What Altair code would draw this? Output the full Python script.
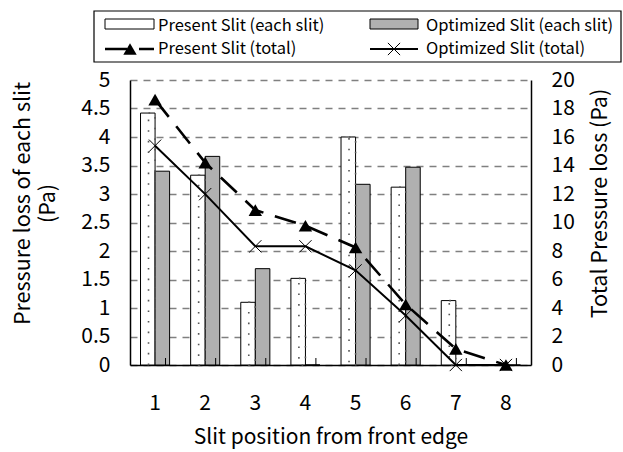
import altair as alt
import pandas as pd

slits = [1, 2, 3, 4, 5, 6, 7, 8]
present_each = [4.42, 3.33, 1.10, 1.52, 4.00, 3.12, 1.13, 0.0]
optimized_each = [3.40, 3.66, 1.69, 0.0, 3.17, 3.47, 0.0, 0.0]
present_total = [18.62, 14.20, 10.87, 9.77, 8.25, 4.25, 1.13, 0.0]
optimized_total = [15.39, 11.99, 8.33, 8.33, 6.64, 3.47, 0.0, 0.0]
left_ticks = [0, 0.5, 1, 1.5, 2, 2.5, 3, 3.5, 4, 4.5, 5]
right_ticks = [0, 2, 4, 6, 8, 10, 12, 14, 16, 18, 20]
series_names = ["Present", "Optimized"]
legend_labels = ["Present Slit (each slit)", "Optimized Slit (each slit)",
                 "Present Slit (total)", "Optimized Slit (total)"]

FONT = "Noto Sans CJK JP"
W, H = 401, 285
HATCH = "#b0b0b0"

bars_df = pd.DataFrame({
    "slit": slits * 2,
    "series": [series_names[0]] * len(slits) + [series_names[1]] * len(slits),
    "value": present_each + optimized_each,
})
tot_df = pd.DataFrame({"slit": slits, "present": present_total, "optimized": optimized_total})
one = pd.DataFrame({"a": [0]})

xenc = alt.X("slit:O",
             scale=alt.Scale(paddingInner=0.42, paddingOuter=0.21),
             axis=alt.Axis(title="Slit position from front edge", labelAngle=0, ticks=False,
                           domainColor="black", domainWidth=1.5, labelFontSize=21,
                           titleFontSize=21, labelPadding=27, titlePadding=13))
off = alt.XOffset("series:N", scale=alt.Scale(domain=series_names, paddingInner=0, paddingOuter=0))

yleft_axis = alt.Axis(values=left_ticks, format="~g", grid=True, gridDash=[7, 6],
                      gridColor="#808080", gridWidth=1.5, ticks=False, domainColor="black",
                      domainWidth=1.5, labelFontSize=21, labelPadding=20,
                      title=["Pressure loss of each slit", "(Pa)"], titleFontSize=21.5,
                      titleLineHeight=25, titlePadding=21, titleY=123)
yleft_scale = alt.Scale(domain=[0, 5], nice=False)

bars = alt.Chart(bars_df).mark_bar(stroke="black", strokeWidth=1).encode(
    x=xenc, xOffset=off,
    y=alt.Y("value:Q", scale=yleft_scale, axis=yleft_axis),
    fill=alt.Fill("series:N", scale=alt.Scale(domain=series_names, range=["white", HATCH]),
                  legend=None),
)
dots = alt.Chart(bars_df).transform_filter("datum.series == 'Present'").mark_bar(
    fillOpacity=0, stroke="#555555", strokeWidth=1.6, strokeDash=[1.6, 9],
    width=alt.RelativeBandSize(0.45)
).encode(
    x=xenc, xOffset=off,
    y=alt.Y("value:Q", scale=yleft_scale, axis=yleft_axis),
)

yright_axis = alt.Axis(orient="right", values=right_ticks, ticks=False, grid=False,
                       domainColor="black", domainWidth=1.5, labelFontSize=21, labelPadding=20,
                       title="Total Pressure loss (Pa)", titleFontSize=21.5, titleAngle=270,
                       titleBaseline="middle", titleX=69, titleY=123)
yright_scale = alt.Scale(domain=[0, 20], nice=False)

pline = alt.Chart(tot_df).mark_line(color="black", strokeWidth=2.6, strokeDash=[22, 12]).encode(
    x=xenc, y=alt.Y("present:Q", scale=yright_scale, axis=yright_axis))
ppts = alt.Chart(tot_df).mark_point(shape="triangle-up", filled=True, color="black",
                                    size=180, opacity=1).encode(
    x=xenc, y=alt.Y("present:Q", scale=yright_scale, axis=yright_axis))
oline = alt.Chart(tot_df).mark_line(color="black", strokeWidth=2).encode(
    x=xenc, y=alt.Y("optimized:Q", scale=yright_scale, axis=yright_axis))
opts = alt.Chart(tot_df).mark_point(shape="M-1,-1L1,1M-1,1L1,-1", filled=False, color="black",
                                    size=150, strokeWidth=1, opacity=1).encode(
    x=xenc, y=alt.Y("optimized:Q", scale=yright_scale, axis=yright_axis))
totals = alt.layer(pline, ppts, oline, opts)

xticks = alt.Chart(pd.DataFrame({"slit": slits})).mark_rule(color="black", strokeWidth=1).encode(
    x=xenc, xOffset=alt.value(25), y=alt.value(H), y2=alt.value(H - 7))

# legend (drawn above the plot area)
lg_box = alt.Chart(one).mark_rect(fillOpacity=0, stroke="black", strokeWidth=1.2).encode(
    x=alt.value(-36), x2=alt.value(491), y=alt.value(-69), y2=alt.value(-18))
lg_r1 = alt.Chart(one).mark_rect(fill="white", stroke="black", strokeWidth=1).encode(
    x=alt.value(-25), x2=alt.value(24), y=alt.value(-61), y2=alt.value(-51))
lg_r2 = alt.Chart(one).mark_rect(fill=HATCH, stroke="black", strokeWidth=1).encode(
    x=alt.value(240), x2=alt.value(288), y=alt.value(-61), y2=alt.value(-51))
lg_l1 = alt.Chart(one).mark_rule(color="black", strokeWidth=2.6, strokeDash=[22, 12]).encode(
    x=alt.value(-25), x2=alt.value(24), y=alt.value(-31))
lg_p1 = alt.Chart(one).mark_point(shape="triangle-up", filled=True, color="black", size=180,
                                  opacity=1).encode(x=alt.value(0), y=alt.value(-31))
lg_l2 = alt.Chart(one).mark_rule(color="black", strokeWidth=2).encode(
    x=alt.value(240), x2=alt.value(288), y=alt.value(-31))
lg_p2 = alt.Chart(one).mark_point(shape="M-1,-1L1,1M-1,1L1,-1", filled=False, color="black",
                                  size=150, strokeWidth=1, opacity=1).encode(
    x=alt.value(264), y=alt.value(-31))
lg_texts = []
for i, lab in enumerate(legend_labels):
    lg_texts.append(alt.Chart(one).mark_text(
        text=lab, align="left", baseline="middle", fontSize=16.5, font=FONT, color="black"
    ).encode(x=alt.value(28 if i % 2 == 0 else 296), y=alt.value(-54 if i < 2 else -31)))

chart = alt.layer(
    alt.layer(bars, dots), totals, xticks,
    lg_box, lg_r1, lg_r2, lg_l1, lg_p1, lg_l2, lg_p2, *lg_texts
).resolve_scale(y="independent").properties(
    width=W, height=H,
    autosize=alt.AutoSizeParams(type="none"),
    padding={"left": 130, "top": 80, "right": 92, "bottom": 87},
).configure_view(stroke=None).configure_axis(
    labelFont=FONT, titleFont=FONT, labelColor="black", titleColor="black",
    titleFontWeight="normal"
)

chart.save("out.html", embed_options={"renderer": "svg", "actions": False})
